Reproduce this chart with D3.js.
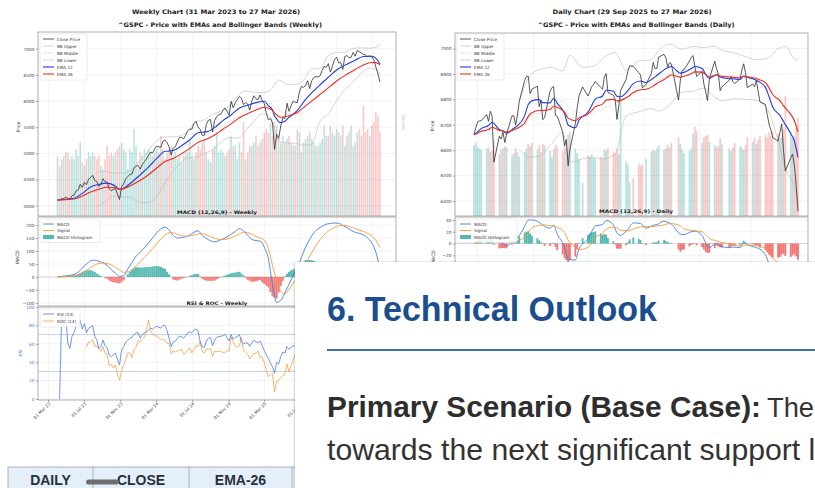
<!DOCTYPE html>
<html>
<head>
<meta charset="utf-8">
<script src="https://cdn.jsdelivr.net/npm/d3@7/dist/d3.min.js"></script>
<style>
html,body{margin:0;padding:0;background:#fff;}
svg{display:block;}
</style>
</head>
<body>
<svg id="chart" width="815" height="488" xmlns="http://www.w3.org/2000/svg"></svg>
<script>
// ================= DATA =================
// ---- Weekly (31 Mar 2023 .. 27 Mar 2026, one value per week) ----
const weeklyStart = "2023-03-31";
const weeklyClose = [4109,4105,4138,4133,4169,4136,4124,4191,4205,4282,
 4299,4410,4348,4450,4399,4505,4536,4582,4478,4464,
 4370,4406,4515,4457,4450,4320,4288,4308,4327,4224,
 4117,4358,4415,4514,4559,4595,4604,4719,4755,4770,
 4697,4784,4840,4891,4959,5027,5006,5089,5137,5124,
 5117,5234,5254,5204,5123,4967,5100,5128,5223,5303,
 5305,5278,5347,5431,5465,5460,5567,5615,5505,5459,
 5346,5344,5554,5634,5648,5408,5626,5703,5738,5751,
 5815,5865,5808,5729,5995,5870,5969,6032,6090,6051,
 5931,5971,5942,5827,5997,6101,6041,6026,6115,6013,
 5955,5770,5639,5667,5581,5074,5363,5283,5525,5687,
 5660,5958,5803,5912,6000,5977,5968,6173,6279,6260,
 6297,6389,6238,6389,6450,6467,6460,6482,6584,6664,
 6644,6716,6553,6664,6792,6840,6729,6734,6603,6849,
 6870,6827,6834,6930,6858,6966,6940,6916,6890,6880,
 6850,6862,6846,6790,6650,6518,6360];
const weeklyVolume = [18,15,17,18,19,19,17,18,17,20,
 18,22,16,15,17,19,18,19,18,17,
 18,15,14,17,21,18,19,18,19,20,
 21,22,20,19,14,20,19,26,21,14,
 19,18,20,19,20,19,18,19,20,19,
 24,20,17,19,20,21,18,19,17,18,
 16,18,19,19,23,18,17,19,21,20,
 22,23,19,17,16,20,21,25,19,20,
 19,18,19,20,24,21,21,17,22,19,
 28,17,19,21,21,22,24,21,22,23,
 25,26,25,28,24,28,27,23,22,24,
 22,23,24,22,21,21,26,25,19,22,
 23,24,25,23,22,21,21,22,23,27,
 24,24,27,25,24,26,25,24,27,21,
 24,25,27,21,22,25,26,24,33,25,
 26,24,27,28,31,30,25];
// [week index, value]
const weeklyEma12 = [[0,4109],[4,4122],[8,4142],[12,4236],[16,4357],[20,4406],[24,4431],[28,4373],[30,4314],[32,4335],[36,4452],[40,4590],[44,4736],[48,4904],[52,5039],[56,5054],[60,5145],[64,5259],[68,5394],[72,5410],[76,5492],[80,5625],[84,5734],[88,5868],[92,5920],[96,5969],[100,5997],[102,5912],[104,5829],[105,5713],[106,5659],[107,5601],[108,5589],[110,5613],[112,5687],[116,5820],[120,6030],[124,6200],[128,6345],[132,6491],[136,6620],[140,6703],[144,6780],[148,6852],[152,6856],[153,6846],[154,6816],[155,6770],[156,6707]];
const weeklyEma26 = [[0,4109],[4,4116],[8,4129],[12,4184],[16,4262],[20,4314],[24,4352],[28,4341],[30,4316],[32,4326],[36,4395],[40,4485],[44,4592],[48,4721],[52,4843],[56,4903],[60,4992],[64,5095],[68,5212],[72,5269],[76,5351],[80,5461],[84,5564],[88,5682],[92,5759],[96,5828],[100,5881],[104,5823],[105,5768],[106,5738],[107,5704],[108,5691],[112,5717],[116,5782],[120,5907],[124,6032],[128,6155],[132,6285],[136,6410],[140,6511],[144,6604],[148,6690],[152,6735],[154,6733],[155,6717],[156,6691]];
const weeklyBBIdx = [19,23,27,31,35,39,43,47,51,55,59,63,67,71,75,79,83,87,91,95,99,103,107,111,115,119,123,127,131,135,139,143,147,151,155,156];
const weeklyBBUpper = [4633,4656,4624,4625,4664,4834,4997,5203,5312,5315,5330,5418,5609,5641,5746,5809,5902,6090,6189,6171,6159,6210,6402,6321,6312,6397,6611,6619,6868,6925,6937,7005,7016,7009,7047,7099];
const weeklyBBMiddle = [4303,4366,4404,4395,4414,4454,4527,4663,4842,4965,5060,5168,5269,5321,5406,5509,5602,5690,5809,5891,5959,5950,5822,5761,5752,5777,5891,6119,6308,6465,6577,6685,6776,6819,6817,6799];
const weeklyBBLower = [3973,4076,4184,4165,4164,4074,4057,4123,4372,4615,4790,4918,4929,5001,5066,5209,5302,5290,5429,5611,5759,5690,5242,5201,5192,5157,5171,5619,5748,6005,6217,6365,6536,6629,6587,6499];
// MACD & signal at every second week (0,2,4..156)
const weeklyMacd = [0,2,4,6,10,18,35,50,62,65,
 60,54,45,28,15,2,5,30,55,80,
 95,112,130,150,170,185,192,180,160,150,
 152,155,162,172,178,160,148,140,135,140,
 146,154,165,175,186,178,160,145,140,138,
 115,70,-30,-98,-90,-62,-28,5,35,75,
 115,145,170,185,195,203,206,208,207,198,
 190,180,172,168,162,150,132,95,30];
const weeklySignal = [0,0.4,1.3,2.6,4.5,8,15,25,36,46,
 52,54,52,46,37,27,18,19,28,43,
 59,75,92,110,128,146,161,170,170,164,
 159,157,158,162,166,167,162,155,149,145,
 144,146,151,158,166,172,171,164,156,150,
 142,110,45,-15,-55,-65,-48,-24,0,25,
 50,80,108,133,154,170,182,191,197,199,
 197,192,186,180,175,168,158,141,112];
const weeklyHist = [0,1,1.6,2,2.7,3,3.4,4.5,5.5,8,
 10,15,20,23,25,26,26,23,19,13,
 8,4,0,-3,-7,-13,-18,-20,-22,-24,
 -25,-20,-13,0,11,20,27,33,37,37,
 36,36,37,38,38,39,40,41,42,41,
 39,35,31,20,10,0,-10,-12,-14,-10,
 -7,-4,-2,1,4,7,10,11,12,2,
 -7,-11,-14,-15,-15,-15,-14,-9,-5,-1,
 2,5,8,11,14,16,17,19,20,13,
 6,-3,-11,-15,-19,-18,-16,-14,-12,-20,
 -27,-34,-40,-58,-75,-80,-83,-60,-35,-15,
 3,12,20,25,29,32,35,43,50,58,
 65,65,65,64,62,57,52,47,41,37,
 33,28,24,20,17,13,10,4,-1,-4,
 -7,-10,-12,-13,-14,-13,-12,-12,-13,-15,
 -18,-22,-26,-36,-46,-64,-82];
const weeklyRsi = [null,0,89,85,91,60,55,68,72,80,
 82,85,76,82,72,77,78,80,68,64,
 55,57,64,58,56,48,46,48,50,43,
 37,53,57,62,64,66,67,70,72,72,
 66,70,72,73,75,77,76,78,79,78,
 77,80,80,74,66,57,62,63,66,68,
 68,66,69,72,73,72,75,76,74,62,
 57,56,63,66,67,58,64,67,68,68,
 69,70,67,63,70,65,67,68,70,62,
 60,61,61,57,61,64,62,61,63,58,
 53,48,44,39,35,28,40,38,46,51,
 50,57,54,56,58,57,57,62,65,64,
 65,67,62,66,68,68,68,68,71,73,
 72,74,66,69,72,73,67,67,61,68,
 69,66,66,69,65,69,67,66,64,63,
 60,61,59,55,48,43,36];
const weeklyRoc = [null,null,null,null,null,null,null,null,null,null,
 null,null,null,null,7.1,9.7,9.6,10.9,7.4,7.9,
 6.0,5.1,7.4,4.1,3.5,-2.0,-1.4,-3.2,-1.6,-6.2,
 -9.2,-4.9,-1.4,1.1,4.3,4.3,2.0,5.9,6.9,10.4,
 9.5,11.0,11.9,15.8,20.5,15.4,13.4,12.7,12.7,11.5,
 11.1,10.9,10.5,9.1,9.1,3.8,5.4,4.8,5.3,5.5,
 6.0,3.7,4.1,6.0,6.8,4.3,6.0,7.9,7.5,9.9,
 4.8,4.2,6.3,6.2,6.5,2.5,5.2,5.0,5.0,5.3,
 4.5,4.5,5.5,4.9,12.1,9.8,7.5,7.1,7.8,11.9,
 5.4,4.7,3.6,1.3,3.1,4.0,4.0,5.2,2.0,2.4,
 -0.2,-4.3,-7.4,-6.3,-5.9,-15.0,-9.7,-9.3,-7.9,-6.8,
 -6.3,-1.1,-5.1,-1.7,0.8,3.6,5.8,8.9,12.5,23.4,
 17.4,12.3,10.2,7.2,11.1,9.4,7.7,8.4,10.3,8.0,
 5.8,7.3,4.1,4.3,8.9,7.1,4.3,4.1,2.2,5.7,
 4.3,2.4,2.9,3.2,4.7,4.5,2.2,1.1,2.4,2.2,
 3.7,0.2,-0.3,-0.5,-2.7,-5.9,-7.3];
const weeklyPriceTicks = [4000,4500,5000,5500,6000,6500,7000];
const weeklyMacdTicks = [-100,-50,0,50,100,150,200];
const rsiTicks = [0,20,40,60,80,100];
const weeklyDateTicks = ["2023-03-01","2023-07-01","2023-11-01","2024-03-01","2024-07-01","2024-11-01","2025-03-01","2025-07-01","2025-11-01","2026-03-01"];

// ---- Daily (29 Sep 2025 .. 27 Mar 2026, one value per trading day) ----
const dailyStart = "2025-09-29";
const dailyEnd = "2026-03-27";
const marketHolidays = ["2025-11-27","2025-12-25","2026-01-01","2026-01-19","2026-02-16"];
const dailyClose = [6661,6688,6711,6715,6716,6740,6714,6753,6735,6553,
 6655,6644,6671,6630,6664,6735,6735,6699,6738,6792,
 6875,6891,6890,6822,6840,6852,6771,6796,6720,6728,
 6832,6846,6850,6737,6734,6672,6617,6642,6539,6603,
 6705,6766,6813,6849,6813,6829,6850,6857,6870,6847,
 6840,6887,6901,6827,6816,6800,6721,6775,6835,6878,
 6910,6932,6930,6905,6896,6845,6858,6902,6945,6921,
 6921,6966,6977,6963,6927,6944,6940,6797,6876,6913,
 6916,6950,6965,6972,6930,6890,6910,6860,6830,6795,
 6880,6950,6920,6900,6834,6850,6875,6890,6870,6862,
 6880,6915,6940,6905,6846,6860,6850,6875,6830,6790,
 6780,6740,6703,6680,6650,6636,6670,6703,6600,6518,
 6570,6585,6540,6460,6360];
const dailyVolume = [6.2,6.4,6.0,5.9,5.8,5.9,6.0,5.6,5.7,6.6,
 5.4,5.8,5.9,6.1,6.0,5.3,5.5,5.9,5.6,5.2,
 5.6,5.9,6.3,6.1,6.4,5.8,6.2,5.6,6.3,6.2,
 5.7,5.1,5.8,6.2,6.0,5.7,6.1,5.9,7.1,7.4,
 5.9,5.5,5.0,2.9,5.3,5.2,5.4,5.1,5.0,5.2,
 5.1,5.8,5.7,5.9,5.6,5.5,5.9,5.4,10.3,4.8,
 4.5,2.9,3.3,4.6,4.4,4.5,5.0,5.6,5.8,5.7,
 5.9,6.2,5.8,5.9,6.2,6.0,6.4,6.9,6.3,5.8,
 5.5,5.7,5.9,7.2,7.8,7.4,6.4,6.9,7.0,7.1,
 6.5,6.2,6.0,6.1,6.8,6.3,5.9,5.7,6.0,6.4,
 6.1,6.0,5.8,6.2,6.9,6.5,6.8,6.3,6.7,7.0,
 7.1,6.9,7.3,7.0,7.4,7.2,6.8,6.9,7.6,10.5,
 7.4,6.8,7.0,7.7,8.6];
// EMAs, MACD and signal at every second trading day (0,2,4..124)
const dailyEma12 = [6661,6672,6685,6697,6710,6681,6675,6667,6686,6696,
 6736,6780,6794,6799,6787,6786,6804,6784,6744,6699,
 6688,6718,6750,6776,6801,6813,6836,6832,6812,6810,
 6834,6862,6872,6866,6883,6894,6916,6924,6929,6903,
 6906,6921,6929,6921,6899,6882,6897,6888,6881,6881,
 6878,6892,6887,6878,6871,6847,6811,6770,6737,6713,
 6665,6636,6572];
const dailyEma26 = [6661,6667,6674,6681,6690,6678,6675,6671,6680,6686,
 6707,6733,6747,6756,6756,6760,6773,6768,6750,6726,
 6716,6727,6742,6756,6771,6781,6797,6800,6794,6796,
 6810,6827,6838,6840,6852,6862,6878,6888,6896,6887,
 6891,6901,6908,6907,6898,6889,6896,6892,6888,6887,
 6885,6891,6889,6884,6879,6866,6845,6819,6795,6774,
 6741,6716,6672];
const dailyBBIdx = [19,23,27,31,35,39,43,47,51,55,59,63,67,71,75,79,83,87,91,95,99,103,107,111,115,119,123,124];
const dailyBBUpper = [6793,6893,6919,6926,6911,6973,6926,6930,6966,6984,6914,6951,6955,6994,7018,6997,7008,7004,7009,6994,6982,6968,6956,6961,6999,7009,6954,6960];
const dailyBBMiddle = [6698,6733,6749,6776,6791,6763,6746,6750,6766,6784,6824,6851,6859,6874,6898,6913,6920,6924,6909,6894,6892,6884,6876,6861,6819,6769,6694,6670];
const dailyBBLower = [6601,6573,6579,6626,6671,6553,6566,6570,6566,6584,6734,6751,6763,6754,6778,6829,6832,6844,6809,6794,6802,6800,6796,6761,6639,6529,6434,6380];
const dailyMacd = [0,5,10.5,16,20,3,0,-4,6,10,
 29,40,40,36,31,26,31,16,-6,-27,
 -28,-9,8,20,30,32,39,32,18,14,
 24,35,34,26,31,32,38,36,33,16,
 15,20,21,14,1,-7,1,-4,-7,-6,
 -7,1,-2,-6,-8,-19,-34,-49,-58,-61,
 -76,-80,-100];
const dailySignal = [0,1,3.5,7.1,11,11,7.6,4.1,3.3,5,
 10.4,19.3,26.7,30.8,31.6,30.3,29.8,27.4,19,6,
 -6,-10.3,-6.6,1.2,9.8,17.4,24.1,28,26.6,22.8,
 21.8,24.7,28.2,28.8,28.9,29.8,31.6,33.5,33.7,30,
 24.8,22.4,21.7,20,15.3,8.5,4.5,2.4,-0.4,-2.6,
 -4,-3.6,-2.5,-3,-4.5,-7.9,-14.8,-24.6,-35.2,-43.9,
 -52.9,-61.9,-72.4];
const dailyHist = [0,2,4,5.5,7,8,9,9,9,-2,
 -8,-8,-7.6,-8,-8,-2,2.7,4,5,12,
 18.6,20,20.7,17,13.3,9,5.2,2,-0.6,-4,
 -4.3,-1,1.2,-6,-11.4,-18,-25,-28,-33,-28,
 -22,-10,1.3,9,14.6,17,18.8,19.5,20,17,
 14.6,16,15,9,4,-2,-8.6,-9,-8.8,-3,
 2.2,7,10.3,8,5.8,1,-2.8,0,2,2,
 2.2,5,6.4,4,2.5,1,-0.7,-10,-14,-11,
 -9.8,-5,-2.4,-1,-0.7,-3,-6,-10,-14.3,-16,
 -15.5,-8,-3.5,-5,-6.4,-7,-6.6,-5,-3.4,-3,
 -3,1,4.6,2,0.5,-1,-3,-3,-3.5,-7,
 -11,-15,-19,-22,-24.4,-24,-22.8,-19,-17,-21,
 -23,-20,-18,-22,-27.6];
const dailyPriceTicks = [6400,6500,6600,6700,6800,6900,7000];
const dailyMacdTicks = [-20,0,20,40];
const dailyMonthTicks = ["2025-10-01","2025-11-01","2025-12-01","2026-01-01","2026-02-01","2026-03-01"];

// Page text (as visible in the screenshot)
const pageHeading = "6. Technical Outlook";
const pageBold = "Primary Scenario (Base Case):";
const pageRest = "The";
const pageLine2 = "towards the next significant support l";
const tableHeaders = ["DAILY","CLOSE","EMA-26"];

// ================= DRAWING =================
const FONT = "'DejaVu Sans', sans-serif";
const SANS = "'Liberation Sans', Arial, sans-serif";
const C = {close:"#2e2e2e", bb:"#b8b8b8", ema12:"#1f3ddf", ema26:"#ee2b1f", up:"#26a69a", down:"#ef5350",
  macd:"#3f7fe4", signal:"#f59b36", rsi:"#4a7de6", roc:"#f5a24a", grid:"#e6e6e6", frame:"#8c8c8c", text:"#333"};

const svg = d3.select("#chart").attr("font-family", FONT);
svg.append("rect").attr("width", 815).attr("height", 488).attr("fill", "#fff");
const defs = svg.append("defs");
function clip(id, p) {
  defs.append("clipPath").attr("id", id).append("rect")
    .attr("x", p.x0).attr("y", p.y0).attr("width", p.x1 - p.x0).attr("height", p.y1 - p.y0);
  return `url(#${id})`;
}
const parse = d3.utcParse("%Y-%m-%d");
const iso = d3.utcFormat("%Y-%m-%d");

const wDates = weeklyClose.map((_, i) => d3.utcDay.offset(parse(weeklyStart), 7 * i));
const holidaySet = new Set(marketHolidays);
const dDates = [];
for (let d = parse(dailyStart); d <= parse(dailyEnd); d = d3.utcDay.offset(d, 1)) {
  const wd = d.getUTCDay();
  if (wd !== 0 && wd !== 6 && !holidaySet.has(iso(d))) dDates.push(d);
}

function txt(g, x, y, s, o = {}) {
  const t = g.append("text").attr("x", x).attr("y", y).text(s)
    .attr("font-size", o.fs || 4.4).attr("fill", o.fill || C.text)
    .attr("text-anchor", o.anchor || "start")
    .attr("font-family", o.family || FONT);
  if (o.bold) t.attr("font-weight", "bold");
  if (o.len) t.attr("textLength", o.len).attr("lengthAdjust", "spacingAndGlyphs");
  if (o.rot != null) t.attr("transform", `rotate(${o.rot},${x},${y})`);
  return t;
}
function hgrid(g, scale, ticks, p) {
  g.selectAll(null).data(ticks).join("line")
    .attr("x1", p.x0).attr("x2", p.x1).attr("y1", d => scale(d)).attr("y2", d => scale(d))
    .attr("stroke", C.grid).attr("stroke-width", 0.5);
}
function vgrid(g, scale, ticks, p) {
  g.selectAll(null).data(ticks.filter(d => scale(d) > p.x0 && scale(d) < p.x1)).join("line")
    .attr("x1", d => scale(d)).attr("x2", d => scale(d)).attr("y1", p.y0).attr("y2", p.y1)
    .attr("stroke", C.grid).attr("stroke-width", 0.5);
}
function frame(g, p) {
  g.append("rect").attr("x", p.x0).attr("y", p.y0).attr("width", p.x1 - p.x0).attr("height", p.y1 - p.y0)
    .attr("fill", "none").attr("stroke", C.frame).attr("stroke-width", 0.7);
}
function yAxis(g, x, scale, ticks, color) {
  const a = g.append("g").attr("transform", `translate(${x},0)`)
    .call(d3.axisLeft(scale).tickValues(ticks).tickSize(2).tickPadding(1.6).tickFormat(d3.format("d")));
  a.select(".domain").remove();
  a.selectAll(".tick line").attr("stroke", "#555").attr("stroke-width", 0.5);
  a.selectAll(".tick text").attr("font-size", 4.3).attr("fill", color || "#444").attr("font-family", FONT);
  return a;
}
function legend(g, x, y, w, step, items) {
  const h = items.length * step + 4;
  g.append("rect").attr("x", x).attr("y", y).attr("width", w).attr("height", h).attr("rx", 1.5)
    .attr("fill", "#fff").attr("fill-opacity", 0.85).attr("stroke", "#d4d4d4").attr("stroke-width", 0.5);
  items.forEach((it, i) => {
    const yy = y + 5 + i * step;
    if (it.patch) {
      g.append("rect").attr("x", x + 3).attr("y", yy - 2).attr("width", 11).attr("height", 4).attr("fill", it.color).attr("fill-opacity", 0.8);
    } else {
      g.append("line").attr("x1", x + 3).attr("x2", x + 14).attr("y1", yy).attr("y2", yy)
        .attr("stroke", it.color).attr("stroke-width", it.w || 1).attr("stroke-dasharray", it.dash || null);
    }
    txt(g, x + 17, yy + 1.5, it.label, {fs: 4.2, fill: "#333"});
  });
}
function path(g, data, line, color, w, extra = {}) {
  const p = g.append("path").datum(data).attr("d", line).attr("fill", "none")
    .attr("stroke", color).attr("stroke-width", w).attr("stroke-linejoin", "round");
  if (extra.dash) p.attr("stroke-dasharray", extra.dash);
  if (extra.op) p.attr("stroke-opacity", extra.op);
  return p;
}
const upDown = (arr) => arr.map((v, i) => (i === 0 || v >= arr[i - 1]) ? C.up : C.down);

// ---------------- WEEKLY FIGURE ----------------
const WP = {x0: 38, x1: 396, y0: 32, y1: 216};
const WM = {x0: 38, x1: 396, y0: 217, y1: 306};
const WR = {x0: 38, x1: 396, y0: 307, y1: 400};
const wx = d3.scaleUtc().domain([wDates[0], wDates[wDates.length - 1]]).range([57.5, 380]);
const wy = d3.scaleLinear().domain([3803, 7319]).range([WP.y1, WP.y0]);
const wv = d3.scaleLinear().domain([0, 55]).range([WP.y1, WP.y0]);
const wmy = d3.scaleLinear().domain([-112, 231]).range([WM.y1, WM.y0]);
const wry = d3.scaleLinear().domain([0, 100]).range([399, 307]);
const wroc = d3.scaleLinear().domain([-18.4, 26.9]).range([399, 307]);
const wTickDates = weeklyDateTicks.map(parse);
const wColors = upDown(weeklyClose);

const gW = svg.append("g");
txt(gW, 216, 14, "Weekly Chart (31 Mar 2023 to 27 Mar 2026)", {fs: 6.2, bold: true, anchor: "middle", len: 168, fill: "#222"});
txt(gW, 220, 27, "^GSPC - Price with EMAs and Bollinger Bands (Weekly)", {fs: 6.2, bold: true, anchor: "middle", len: 204, fill: "#222"});

// price panel
hgrid(gW, wy, weeklyPriceTicks, WP);
vgrid(gW, wx, wTickDates, WP);
const wpBody = gW.append("g").attr("clip-path", clip("cwp", WP));
wpBody.selectAll("rect.vol").data(weeklyVolume).join("rect").attr("class", "vol")
  .attr("x", (d, i) => wx(wDates[i]) - 0.75).attr("width", 1.5)
  .attr("y", d => wv(d)).attr("height", d => WP.y1 - wv(d))
  .attr("fill", (d, i) => wColors[i]).attr("fill-opacity", 0.32);
const wLine = d3.line().x(d => wx(d[0])).y(d => wy(d[1]));
const wLineS = d3.line().x(d => wx(d[0])).y(d => wy(d[1])).curve(d3.curveMonotoneX);
const bb = (arr) => weeklyBBIdx.map((w, i) => [wDates[w], arr[i]]);
path(wpBody, bb(weeklyBBUpper), wLineS, C.bb, 0.6);
path(wpBody, bb(weeklyBBMiddle), wLineS, C.bb, 0.5, {dash: "1.5,1"});
path(wpBody, bb(weeklyBBLower), wLineS, C.bb, 0.6);
path(wpBody, weeklyClose.map((v, i) => [wDates[i], v]), wLine, C.close, 0.8);
path(wpBody, weeklyEma12.map(d => [wDates[d[0]], d[1]]), wLineS, C.ema12, 1.1);
path(wpBody, weeklyEma26.map(d => [wDates[d[0]], d[1]]), wLineS, C.ema26, 1.1);
frame(gW, WP);
yAxis(gW, WP.x0, wy, weeklyPriceTicks);
txt(gW, 20, 127, "Price", {fs: 4.6, anchor: "middle", rot: -90});
txt(gW, 402, 122, "Volume", {fs: 4.2, anchor: "middle", rot: 90, fill: "#bbb"});
legend(gW, 40, 34, 47, 7, [
  {label: "Close Price", color: C.close, w: 0.8},
  {label: "BB Upper", color: C.bb, w: 0.6},
  {label: "BB Middle", color: C.bb, w: 0.6, dash: "1.5,1"},
  {label: "BB Lower", color: C.bb, w: 0.6},
  {label: "EMA 12", color: C.ema12, w: 1.1},
  {label: "EMA 26", color: C.ema26, w: 1.1}
]);

// MACD panel
hgrid(gW, wmy, weeklyMacdTicks, WM);
vgrid(gW, wx, wTickDates, WM);
const wmBody = gW.append("g").attr("clip-path", clip("cwm", WM));
wmBody.append("line").attr("x1", WM.x0).attr("x2", WM.x1).attr("y1", wmy(0)).attr("y2", wmy(0)).attr("stroke", "#bbb").attr("stroke-width", 0.5);
wmBody.selectAll("rect.h").data(weeklyHist).join("rect").attr("class", "h")
  .attr("x", (d, i) => wx(wDates[i]) - 1.04).attr("width", 2.08)
  .attr("y", d => Math.min(wmy(d), wmy(0))).attr("height", d => Math.abs(wmy(d) - wmy(0)))
  .attr("fill", d => d >= 0 ? C.up : C.down).attr("fill-opacity", 0.75);
const wmLine = d3.line().x(d => wx(d[0])).y(d => wmy(d[1])).curve(d3.curveMonotoneX);
path(wmBody, weeklyMacd.map((v, i) => [wDates[2 * i], v]), wmLine, C.macd, 0.9);
path(wmBody, weeklySignal.map((v, i) => [wDates[2 * i], v]), wmLine, C.signal, 0.9);
frame(gW, WM);
yAxis(gW, WM.x0, wmy, weeklyMacdTicks);
txt(gW, 19, 257, "MACD", {fs: 4.6, anchor: "middle", rot: -90});
legend(gW, 40, 219, 60, 6.5, [
  {label: "MACD", color: C.macd, w: 0.9},
  {label: "Signal", color: C.signal, w: 0.9},
  {label: "MACD Histogram", color: C.up, patch: true}
]);
txt(gW, 217, 214, "MACD (12,26,9) - Weekly", {fs: 4.8, bold: true, anchor: "middle", len: 80, fill: "#222"});

// RSI panel
hgrid(gW, wry, rsiTicks, WR);
vgrid(gW, wx, wTickDates, WR);
const wrBody = gW.append("g").attr("clip-path", clip("cwr", WR));
[30, 70].forEach(v => wrBody.append("line").attr("x1", WR.x0).attr("x2", WR.x1).attr("y1", wry(v)).attr("y2", wry(v)).attr("stroke", "#9fb0c4").attr("stroke-width", 0.6));
const rsiLine = d3.line().defined(d => d[1] != null).x(d => wx(d[0])).y(d => wry(d[1]));
const rocLine = d3.line().defined(d => d[1] != null).x(d => wx(d[0])).y(d => wroc(d[1]));
path(wrBody, weeklyRoc.map((v, i) => [wDates[i], v]), rocLine, C.roc, 0.8);
path(wrBody, weeklyRsi.map((v, i) => [wDates[i], v]), rsiLine, C.rsi, 0.8);
frame(gW, WR);
yAxis(gW, WR.x0, wry, rsiTicks, C.rsi);
txt(gW, 22, 353, "RSI", {fs: 4.6, anchor: "middle", rot: -90, fill: C.rsi});
legend(gW, 40, 309, 40, 7, [
  {label: "RSI (14)", color: C.rsi, w: 0.8},
  {label: "ROC (14)", color: C.roc, w: 0.8}
]);
txt(gW, 217, 305, "RSI & ROC - Weekly", {fs: 4.8, bold: true, anchor: "middle", len: 61, fill: "#222"});
// x ticks + rotated labels
const fmtW = d3.utcFormat("%d %b %y");
wTickDates.forEach(d => {
  const x = wx(d);
  if (x < WR.x0 || x > WR.x1) return;
  gW.append("line").attr("x1", x).attr("x2", x).attr("y1", WR.y1).attr("y2", WR.y1 + 2).attr("stroke", "#555").attr("stroke-width", 0.5);
  txt(gW, x + 2, WR.y1 + 4, fmtW(d), {fs: 4.3, anchor: "end", rot: -45, fill: "#444"});
});

// ---------------- DAILY FIGURE ----------------
const DP = {x0: 455, x1: 808, y0: 33, y1: 216};
const DM = {x0: 455, x1: 808, y0: 217, y1: 306};
const dx = d3.scaleUtc().domain([dDates[0], dDates[dDates.length - 1]]).range([474, 798]);
const dy = d3.scaleLinear().domain([6341, 7061]).range([DP.y1, DP.y0]);
const dv = d3.scaleLinear().domain([0, 16]).range([DP.y1, DP.y0]);
const dmy = d3.scaleLinear().domain([-106, 45]).range([DM.y1, DM.y0]);
const dMonth = dailyMonthTicks.map(parse);
const dColors = upDown(dailyClose);

const gD = svg.append("g");
txt(gD, 632, 14, "Daily Chart (29 Sep 2025 to 27 Mar 2026)", {fs: 6.2, bold: true, anchor: "middle", len: 159, fill: "#222"});
txt(gD, 636, 27, "^GSPC - Price with EMAs and Bollinger Bands (Daily)", {fs: 6.2, bold: true, anchor: "middle", len: 197, fill: "#222"});
hgrid(gD, dy, dailyPriceTicks, DP);
vgrid(gD, dx, dMonth, DP);
const dpBody = gD.append("g").attr("clip-path", clip("cdp", DP));
dpBody.selectAll("rect.vol").data(dailyVolume).join("rect").attr("class", "vol")
  .attr("x", (d, i) => dx(dDates[i]) - 0.85).attr("width", 1.7)
  .attr("y", d => dv(d)).attr("height", d => DP.y1 - dv(d))
  .attr("fill", (d, i) => dColors[i]).attr("fill-opacity", 0.32);
const dLine = d3.line().x(d => dx(d[0])).y(d => dy(d[1]));
const dLineS = d3.line().x(d => dx(d[0])).y(d => dy(d[1])).curve(d3.curveMonotoneX);
const dbb = (arr) => dailyBBIdx.map((k, i) => [dDates[k], arr[i]]);
path(dpBody, dbb(dailyBBUpper), dLineS, C.bb, 0.6);
path(dpBody, dbb(dailyBBMiddle), dLineS, C.bb, 0.5, {dash: "1.5,1"});
path(dpBody, dbb(dailyBBLower), dLineS, C.bb, 0.6);
path(dpBody, dailyClose.map((v, i) => [dDates[i], v]), dLine, C.close, 0.8);
path(dpBody, dailyEma12.map((v, i) => [dDates[2 * i], v]), dLineS, C.ema12, 1.1);
path(dpBody, dailyEma26.map((v, i) => [dDates[2 * i], v]), dLineS, C.ema26, 1.1);
frame(gD, DP);
yAxis(gD, DP.x0, dy, dailyPriceTicks);
txt(gD, 434, 126, "Price", {fs: 4.6, anchor: "middle", rot: -90});
legend(gD, 457, 34, 47, 7, [
  {label: "Close Price", color: C.close, w: 0.8},
  {label: "BB Upper", color: C.bb, w: 0.6},
  {label: "BB Middle", color: C.bb, w: 0.6, dash: "1.5,1"},
  {label: "BB Lower", color: C.bb, w: 0.6},
  {label: "EMA 12", color: C.ema12, w: 1.1},
  {label: "EMA 26", color: C.ema26, w: 1.1}
]);
// daily MACD
hgrid(gD, dmy, dailyMacdTicks, DM);
vgrid(gD, dx, dMonth, DM);
const dmBody = gD.append("g").attr("clip-path", clip("cdm", DM));
dmBody.append("line").attr("x1", DM.x0).attr("x2", DM.x1).attr("y1", dmy(0)).attr("y2", dmy(0)).attr("stroke", "#bbb").attr("stroke-width", 0.5);
dmBody.selectAll("rect.h").data(dailyHist).join("rect").attr("class", "h")
  .attr("x", (d, i) => dx(dDates[i]) - 0.9).attr("width", 1.8)
  .attr("y", d => Math.min(dmy(d), dmy(0))).attr("height", d => Math.abs(dmy(d) - dmy(0)))
  .attr("fill", d => d >= 0 ? C.up : C.down).attr("fill-opacity", 0.8);
const dmLine = d3.line().x(d => dx(d[0])).y(d => dmy(d[1])).curve(d3.curveMonotoneX);
path(dmBody, dailyMacd.map((v, i) => [dDates[2 * i], v]), dmLine, C.macd, 0.9);
path(dmBody, dailySignal.map((v, i) => [dDates[2 * i], v]), dmLine, C.signal, 0.9);
frame(gD, DM);
yAxis(gD, DM.x0, dmy, dailyMacdTicks);
txt(gD, 435, 257, "MACD", {fs: 4.6, anchor: "middle", rot: -90});
legend(gD, 457, 219, 60, 6.5, [
  {label: "MACD", color: C.macd, w: 0.9},
  {label: "Signal", color: C.signal, w: 0.9},
  {label: "MACD Histogram", color: C.up, patch: true}
]);
txt(gD, 636, 213, "MACD (12,26,9) - Daily", {fs: 4.8, bold: true, anchor: "middle", len: 74, fill: "#222"});

// ---------------- PAGE ELEMENTS ----------------
// table header bottom-left
const gT = svg.append("g");
const colX = [8, 93, 189, 292];
gT.append("rect").attr("x", 8).attr("y", 467).attr("width", 290).attr("height", 30).attr("fill", "#e5eff9").attr("stroke", "#9aa3ad").attr("stroke-width", 0.8);
colX.slice(1).forEach(x => gT.append("line").attr("x1", x).attr("x2", x).attr("y1", 467).attr("y2", 488).attr("stroke", "#9aa3ad").attr("stroke-width", 0.8));
tableHeaders.forEach((h, i) => txt(gT, (colX[i] + colX[i + 1]) / 2, 485, h, {fs: 14, bold: true, anchor: "middle", family: SANS, fill: "#26313d"}));
gT.append("rect").attr("x", 86).attr("y", 479.5).attr("width", 33).attr("height", 5).attr("rx", 2.5).attr("fill", "#6e6e6e");

// overlay card
const filt = defs.append("filter").attr("id", "shadow").attr("x", "-5%").attr("y", "-5%").attr("width", "110%").attr("height", "110%");
filt.append("feDropShadow").attr("dx", -0.5).attr("dy", 0).attr("stdDeviation", 1.2).attr("flood-color", "#000").attr("flood-opacity", 0.25);
const gO = svg.append("g");
gO.append("rect").attr("x", 295).attr("y", 262).attr("width", 540).attr("height", 240).attr("fill", "#fff").attr("filter", "url(#shadow)");
txt(gO, 327, 321, pageHeading, {fs: 34.5, bold: true, family: SANS, fill: "#1b4e8e", len: 330});
gO.append("line").attr("x1", 327).attr("x2", 815).attr("y1", 350).attr("y2", 350).attr("stroke", "#3f72ab").attr("stroke-width", 1.8);
txt(gO, 327, 417, pageBold, {fs: 30, bold: true, family: SANS, fill: "#2e2e2e", len: 434});
txt(gO, 767, 417, pageRest, {fs: 27.3, family: SANS, fill: "#333"});
txt(gO, 327, 459.5, pageLine2, {fs: 30.2, family: SANS, fill: "#333"});
</script>
</body>
</html>
